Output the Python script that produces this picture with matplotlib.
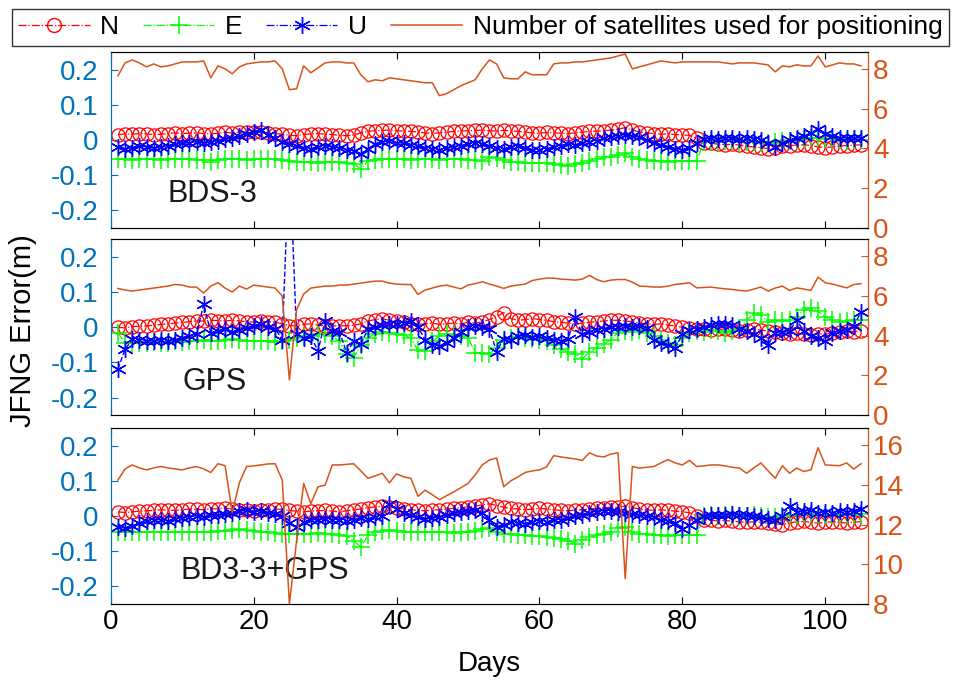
import matplotlib
matplotlib.use('Agg')
import matplotlib.pyplot as plt
import numpy as np
from matplotlib.lines import Line2D

plt.rcParams['font.family'] = ['Liberation Sans', 'DejaVu Sans']

days = np.arange(1, 106)

# BDS-3 solution
n_bds = [0.015, 0.017, 0.016, 0.018, 0.017, 0.015, 0.016, 0.018, 0.02, 0.018,
         0.019, 0.02, 0.018, 0.017, 0.019, 0.021, 0.02, 0.022, 0.023, 0.021,
         0.022, 0.02, 0.018, 0.016, 0.013, 0.012, 0.015, 0.017, 0.018, 0.016,
         0.015, 0.013, 0.012, 0.014, 0.02, 0.024, 0.026, 0.027, 0.028, 0.026,
         0.025, 0.024, 0.022, 0.02, 0.018, 0.02, 0.022, 0.024, 0.025, 0.026,
         0.027, 0.028, 0.026, 0.025, 0.027, 0.026, 0.024, 0.022, 0.02, 0.019,
         0.021, 0.02, 0.019, 0.018, 0.02, 0.022, 0.024, 0.025, 0.026, 0.028,
         0.03, 0.035, 0.028, 0.022, 0.02, 0.018, 0.016, 0.017, 0.015, 0.014,
         0.013, 0.005, -0.008, -0.01, -0.012, -0.014, -0.012, -0.015, -0.018, -0.02,
         -0.022, -0.025, -0.022, -0.018, -0.016, -0.015, -0.014, -0.016, -0.02, -0.022,
         -0.02, -0.018, -0.016, -0.015, -0.014]
e_bds = [-0.055, -0.055, -0.056, -0.055, -0.054, -0.055, -0.056, -0.055, -0.055, -0.054,
         -0.055, -0.056, -0.058, -0.062, -0.057, -0.055, -0.054, -0.055, -0.056, -0.055,
         -0.054, -0.053, -0.055, -0.058, -0.06, -0.062, -0.063, -0.064, -0.065, -0.063,
         -0.062, -0.064, -0.066, -0.068, -0.083, -0.06, -0.056, -0.055, -0.055, -0.054,
         -0.055, -0.056, -0.055, -0.054, -0.055, -0.056, -0.055, -0.054, -0.055, -0.056,
         -0.058, -0.06, -0.05, -0.052, -0.058, -0.062, -0.064, -0.065, -0.066, -0.065,
         -0.066, -0.068, -0.072, -0.074, -0.07, -0.065, -0.06, -0.055, -0.05, -0.048,
         -0.042, -0.036, -0.05, -0.055, -0.058, -0.06, -0.06, -0.062, -0.06, -0.06,
         -0.06, -0.06, -0.005, -0.004, -0.006, -0.003, -0.004, -0.005, -0.007, -0.006,
         -0.008, -0.01, -0.006, -0.004, -0.002, 0.0, 0.002, 0.004, 0.006, 0.003,
         0.002, 0.0, -0.002, -0.001, 0.0]
u_bds = [-0.02, -0.025, -0.022, -0.018, -0.02, -0.023, -0.02, -0.016, -0.012, -0.01,
         -0.008, -0.005, -0.01, -0.006, -0.002, 0.002, 0.006, 0.01, 0.018, 0.022,
         0.028, 0.015, 0.005, -0.005, -0.012, -0.018, -0.022, -0.026, -0.02, -0.016,
         -0.02, -0.024, -0.028, -0.032, -0.04, -0.025, -0.012, -0.006, -0.004, -0.008,
         -0.01, -0.014, -0.018, -0.022, -0.026, -0.028, -0.024, -0.02, -0.016, -0.012,
         -0.01, -0.012, -0.018, -0.022, -0.025, -0.02, -0.018, -0.022, -0.028, -0.03,
         -0.026, -0.02, -0.016, -0.012, -0.015, -0.01, -0.006, -0.002, 0.004, 0.008,
         0.01, 0.014, 0.012, 0.008, 0.0, -0.008, -0.015, -0.02, -0.025, -0.028,
         -0.022, -0.01, 0.002, 0.004, 0.003, 0.006, 0.004, 0.002, 0.005, 0.003,
         0.0, -0.008, -0.02, -0.01, 0.0, 0.006, 0.01, 0.02, 0.032, 0.018,
         0.01, 0.006, 0.004, 0.005, 0.006]
sat_bds = [7.65, 8.3, 8.45, 8.3, 8.1, 8.25, 8.1, 8.15, 8.25, 8.35,
           8.35, 8.35, 8.4, 7.55, 8.15, 8.0, 7.75, 8.1, 8.25, 8.3,
           8.35, 8.35, 8.4, 8.0, 6.95, 7.0, 8.15, 7.8, 8.05, 8.3,
           8.35, 8.35, 8.3, 8.3, 7.7, 7.35, 7.45, 7.4, 7.55, 7.5,
           7.45, 7.4, 7.35, 7.3, 7.3, 6.65, 6.75, 6.95, 7.15, 7.3,
           7.45, 8.0, 8.45, 8.25, 7.55, 7.5, 7.5, 7.85, 7.7, 7.7,
           7.7, 8.25, 8.3, 8.3, 8.35, 8.35, 8.4, 8.45, 8.5, 8.55,
           8.65, 8.75, 8.0, 8.1, 8.2, 8.3, 8.4, 8.35, 8.3, 8.35,
           8.35, 8.35, 8.35, 8.35, 8.35, 8.3, 8.25, 8.3, 8.3, 8.3,
           8.25, 8.2, 7.85, 8.15, 8.1, 8.2, 8.15, 8.15, 8.65, 8.1,
           8.2, 8.3, 8.25, 8.25, 8.15]

# GPS solution
n_gps = [0.0, -0.002, 0.002, 0.003, 0.004, 0.006, 0.008, 0.01, 0.012, 0.014,
         0.016, 0.018, 0.018, 0.02, 0.019, 0.018, 0.02, 0.018, 0.016, 0.015,
         0.017, 0.016, 0.014, 0.01, 0.005, 0.004, 0.008, 0.01, 0.006, 0.004,
         0.003, 0.005, 0.004, 0.006, 0.01, 0.018, 0.022, 0.024, 0.02, 0.018,
         0.014, 0.01, 0.008, 0.01, 0.012, 0.008, 0.01, 0.012, 0.01, 0.014,
         0.012, 0.016, 0.022, 0.03, 0.042, 0.025, 0.02, 0.022, 0.025, 0.022,
         0.02, 0.016, 0.014, 0.012, 0.01, 0.012, 0.014, 0.016, 0.018, 0.02,
         0.02, 0.018, 0.016, 0.012, 0.01, 0.008, 0.01, 0.006, 0.004, 0.0,
         -0.002, -0.004, -0.006, -0.008, -0.006, -0.005, -0.008, -0.01, -0.008, -0.006,
         -0.008, -0.01, -0.012, -0.015, -0.018, -0.016, -0.02, -0.022, -0.018, -0.02,
         -0.015, -0.012, -0.01, -0.012, -0.01]
e_gps = [-0.015, -0.045, -0.044, -0.046, -0.044, -0.042, -0.045, -0.044, -0.04, -0.042,
         -0.04, -0.038, -0.036, -0.038, -0.04, -0.036, -0.034, -0.035, -0.038, -0.04,
         -0.038, -0.04, -0.042, -0.04, -0.035, -0.03, -0.028, -0.025, -0.02, -0.018,
         -0.025, -0.04, -0.075, -0.087, -0.05, -0.03, -0.018, -0.012, -0.015, -0.02,
         -0.022, -0.03, -0.066, -0.068, -0.04, -0.025, -0.02, -0.022, -0.025, -0.03,
         -0.072, -0.074, -0.075, -0.06, -0.035, -0.03, -0.028, -0.03, -0.032, -0.035,
         -0.04, -0.05, -0.062, -0.07, -0.075, -0.09, -0.07, -0.058, -0.048, -0.035,
         -0.015, -0.01, -0.012, -0.008, -0.015, -0.025, -0.035, -0.045, -0.05, -0.03,
         -0.015, -0.01, -0.012, -0.008, -0.01, -0.015, -0.01, -0.005, 0.02, 0.04,
         0.035, 0.015, 0.02, 0.018, 0.022, 0.03, 0.05, 0.055, 0.045, 0.03,
         0.02, 0.015, 0.018, 0.022, 0.02]
u_gps = [-0.118, -0.063, -0.034, -0.036, -0.04, -0.038, -0.035, -0.04, -0.036, -0.03,
         -0.025, -0.02, 0.066, -0.015, -0.01, -0.005, -0.012, -0.008, -0.002, 0.005,
         0.008, 0.002, -0.004, -0.035, 0.5, -0.02, -0.03, -0.025, -0.068, 0.018,
         -0.01, -0.012, -0.072, -0.04, -0.048, -0.005, 0.0, 0.006, 0.01, 0.008,
         0.012, 0.018, 0.0, -0.035, -0.05, -0.052, -0.045, -0.03, -0.012, 0.0,
         0.004, 0.002, -0.005, -0.07, -0.032, -0.035, -0.025, -0.022, -0.028, -0.025,
         -0.03, -0.035, -0.038, -0.032, 0.028, -0.02, -0.012, -0.008, -0.005, 0.0,
         0.002, 0.004, 0.0, 0.004, -0.002, -0.035, -0.045, -0.05, -0.058, -0.02,
         -0.008, -0.004, 0.0, 0.006, 0.008, 0.01, 0.006, -0.005, -0.01, -0.02,
         -0.03, -0.05, -0.015, -0.012, -0.01, 0.02, -0.01, -0.025, -0.03, -0.04,
         -0.015, -0.01, -0.008, 0.005, 0.043]
sat_gps = [6.38, 6.3, 6.25, 6.3, 6.35, 6.4, 6.45, 6.5, 6.58, 6.55,
           6.45, 6.45, 6.15, 6.5, 6.67, 6.4, 6.2, 6.5, 6.35, 6.55,
           6.5, 6.45, 6.4, 6.0, 1.78, 5.3, 6.1, 6.4, 6.45, 6.5,
           6.5, 6.55, 6.55, 6.6, 6.65, 6.7, 6.75, 6.75, 6.65, 6.6,
           6.58, 6.58, 6.08, 6.3, 6.4, 6.5, 6.55, 6.45, 6.36, 6.55,
           6.62, 6.72, 6.6, 6.5, 6.38, 6.5, 6.55, 6.6, 6.78, 6.85,
           6.9, 6.9, 6.85, 6.83, 6.8, 6.85, 7.04, 6.83, 6.72, 6.8,
           6.83, 6.83, 6.7, 6.5, 6.48, 6.45, 6.45, 6.5, 6.58, 6.62,
           6.67, 6.41, 6.43, 6.45, 6.4, 6.36, 6.33, 6.28, 6.25, 6.35,
           6.45, 6.25, 6.4, 6.5, 6.28, 6.41, 6.35, 6.28, 6.95, 6.67,
           6.6, 6.5, 6.41, 6.58, 6.62]

# BDS-3 + GPS solution
n_cmb = [0.012, 0.01, 0.012, 0.014, 0.015, 0.016, 0.018, 0.017, 0.016, 0.018,
         0.02, 0.019, 0.018, 0.02, 0.021, 0.022, 0.02, 0.018, 0.016, 0.015,
         0.016, 0.018, 0.02, 0.019, 0.016, 0.014, 0.012, 0.014, 0.015, 0.016,
         0.014, 0.012, 0.015, 0.018, 0.02, 0.024, 0.026, 0.028, 0.025, 0.022,
         0.02, 0.018, 0.016, 0.015, 0.017, 0.018, 0.02, 0.022, 0.024, 0.026,
         0.028, 0.032, 0.035, 0.03, 0.025, 0.022, 0.02, 0.018, 0.02, 0.022,
         0.02, 0.018, 0.016, 0.015, 0.017, 0.018, 0.02, 0.022, 0.024, 0.025,
         0.026, 0.028, 0.024, 0.02, 0.018, 0.016, 0.018, 0.016, 0.014, 0.012,
         0.01, 0.0, -0.01, -0.012, -0.014, -0.012, -0.015, -0.016, -0.018, -0.016,
         -0.018, -0.02, -0.022, -0.024, -0.02, -0.016, -0.015, -0.018, -0.02, -0.018,
         -0.016, -0.018, -0.02, -0.017, -0.016]
e_cmb = [-0.045, -0.045, -0.046, -0.045, -0.044, -0.045, -0.046, -0.045, -0.045, -0.044,
         -0.045, -0.046, -0.045, -0.044, -0.043, -0.042, -0.04, -0.038, -0.04, -0.042,
         -0.044, -0.046, -0.048, -0.05, -0.05, -0.05, -0.052, -0.05, -0.048, -0.05,
         -0.052, -0.054, -0.056, -0.07, -0.088, -0.055, -0.045, -0.042, -0.04, -0.042,
         -0.044, -0.045, -0.046, -0.045, -0.044, -0.045, -0.046, -0.048, -0.046, -0.044,
         -0.042, -0.036, -0.034, -0.045, -0.05, -0.052, -0.054, -0.055, -0.056, -0.058,
         -0.06, -0.062, -0.065, -0.07, -0.078, -0.068, -0.06, -0.055, -0.05, -0.045,
         -0.035, -0.03, -0.045, -0.05, -0.052, -0.054, -0.055, -0.056, -0.055, -0.054,
         -0.055, -0.054, 0.0, 0.002, 0.001, 0.003, 0.002, 0.0, 0.001, 0.003,
         0.0, -0.002, -0.004, 0.0, 0.002, 0.004, 0.006, 0.005, 0.004, 0.002,
         0.003, 0.002, 0.004, 0.003, 0.005]
u_cmb = [-0.03, -0.035, -0.028, -0.02, -0.015, -0.012, -0.01, -0.014, -0.008, -0.005,
         -0.002, 0.0, -0.004, 0.002, 0.004, 0.006, 0.01, 0.014, 0.016, 0.012,
         0.015, 0.01, 0.005, 0.0, -0.02, -0.03, -0.018, -0.01, -0.012, -0.008,
         -0.01, -0.012, -0.015, -0.01, -0.005, -0.008, -0.004, 0.0, 0.035, 0.02,
         0.01, 0.004, -0.004, -0.008, -0.006, -0.002, 0.004, 0.01, 0.012, 0.015,
         0.016, 0.01, -0.01, -0.03, -0.025, -0.018, -0.02, -0.022, -0.016, -0.014,
         -0.018, -0.012, -0.01, -0.006, 0.0, 0.004, 0.008, 0.012, 0.015, 0.014,
         0.012, 0.01, 0.006, 0.004, 0.0, -0.004, -0.01, -0.014, -0.02, -0.038,
         -0.025, -0.01, 0.0, 0.002, 0.004, 0.003, 0.006, 0.004, 0.002, 0.0,
         -0.004, -0.008, -0.012, 0.0, 0.028, 0.012, 0.014, 0.016, 0.01, 0.012,
         0.01, 0.014, 0.012, 0.015, 0.02]
sat_cmb = [14.24, 14.8, 15.0, 14.85, 14.75, 14.85, 14.92, 14.85, 14.8, 14.75,
           14.85, 14.92, 14.8, 14.62, 15.06, 14.96, 12.6, 14.1, 14.92, 14.95,
           15.0, 15.05, 15.06, 14.24, 8.0, 11.16, 14.07, 13.05, 13.9, 13.98,
           15.0, 15.0, 15.03, 15.06, 14.7, 14.33, 14.45, 14.58, 14.1, 14.55,
           14.4, 14.33, 13.42, 13.73, 13.5, 13.25, 13.45, 13.64, 13.85, 14.07,
           14.5, 15.0, 15.25, 15.35, 13.9, 14.2, 14.4, 14.62, 14.7, 14.75,
           14.9, 15.47, 15.4, 15.35, 15.3, 15.23, 15.61, 15.45, 15.4, 15.55,
           15.61, 9.28, 14.92, 14.84, 14.88, 14.92, 15.1, 15.27, 15.1, 15.0,
           15.23, 14.92, 14.95, 15.0, 15.0, 14.95, 14.88, 14.84, 14.58, 14.85,
           15.1, 14.7, 14.33, 14.96, 14.58, 14.84, 14.67, 14.75, 15.87, 15.0,
           14.98, 14.96, 15.1, 14.79, 15.06]

titles = ['BDS-3', 'GPS', 'BD3-3+GPS']
title_x = [8, 10, 9.7]
sat_limits = [(0, 8.85), (0, 8.85), (8, 16.85)]
sat_ticks = [[0, 2, 4, 6, 8], [0, 2, 4, 6, 8], [8, 10, 12, 14, 16]]

panels = [(n_bds, e_bds, u_bds, sat_bds),
          (n_gps, e_gps, u_gps, sat_gps),
          (n_cmb, e_cmb, u_cmb, sat_cmb)]

blue_ax = '#0072BD'
orange = '#D95319'
fs = 20

fig = plt.figure(figsize=(9.55, 6.84), dpi=100)
bottoms = [0.667, 0.393, 0.117]

for i, (n, e, u, sat) in enumerate(panels):
    ax = fig.add_axes([0.116, bottoms[i], 0.793, 0.257])
    ax.plot(days, n, '-.', color='red', marker='o', markersize=9.5,
            markerfacecolor='none', markeredgewidth=0.9, linewidth=0.9)
    ax.plot(days, e, '-.', color='#00FF00', marker='+', markersize=13,
            markeredgewidth=1.1, linewidth=0.9)
    ax.plot(days, u, '--', color='blue', marker=(6, 2, 0), markersize=12,
            markeredgewidth=1.0, linewidth=1.0)
    ax.set_xlim(0, 106)
    ax.set_ylim(-0.25, 0.25)
    ax.set_yticks([-0.2, -0.1, 0, 0.1, 0.2])
    ax.set_yticklabels(['-0.2', '-0.1', '0', '0.1', '0.2'])
    ax.set_xticks([0, 20, 40, 60, 80, 100])
    ax.tick_params(axis='both', direction='in', top=True, labelsize=fs, length=5)
    ax.tick_params(axis='y', colors=blue_ax, pad=9)
    ax.spines['left'].set_color(blue_ax)
    ax.spines['top'].set_color('#262626')
    ax.spines['bottom'].set_color('#262626')
    if i < 2:
        ax.tick_params(axis='x', labelbottom=False)
    ax.text(title_x[i], -0.155, titles[i], fontsize=22, va='center', ha='left',
            color='#1a1a1a')

    ax2 = ax.twinx()
    ax2.plot(days, sat, '-', color=orange, linewidth=1.1)
    ax2.set_ylim(*sat_limits[i])
    ax2.set_yticks(sat_ticks[i])
    ax2.tick_params(axis='y', direction='in', colors=orange, labelsize=fs, length=5)
    ax2.spines['right'].set_color(orange)
    ax2.spines['left'].set_color(blue_ax)
    ax2.set_xlim(0, 106)
    if i == 2:
        ax.set_xlabel('Days', fontsize=fs, labelpad=12)

fig.text(0.024, 0.517, 'JFNG Error(m)', rotation=90, fontsize=21,
         va='center', ha='center')

handles = [
    Line2D([], [], linestyle='-.', color='red', marker='o', markersize=10,
           markerfacecolor='none', linewidth=0.9),
    Line2D([], [], linestyle='-.', color='#00FF00', marker='+', markersize=13,
           markeredgewidth=1.1, linewidth=0.9),
    Line2D([], [], linestyle='-.', color='blue', marker=(6, 2, 0), markersize=12,
           linewidth=0.9),
    Line2D([], [], linestyle='-', color=orange, linewidth=1.1),
]
labels = ['N', 'E', 'U', 'Number of satellites used for positioning']
leg = fig.legend(handles, labels, loc='upper center', bbox_to_anchor=(0.503, 0.995),
                 ncol=4, fontsize=19, frameon=True, fancybox=False,
                 edgecolor='black', handlelength=2.7, columnspacing=0.9,
                 handletextpad=0.4, borderpad=0.25, borderaxespad=0.2)
leg.get_frame().set_linewidth(1.0)

plt.savefig('out.png', dpi=100)
